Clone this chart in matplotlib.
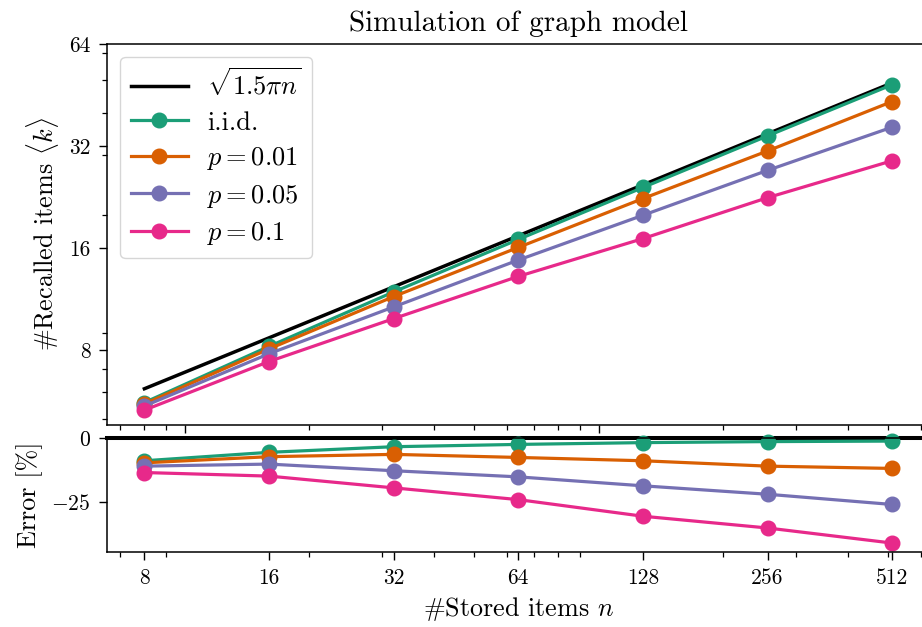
import matplotlib
matplotlib.use('Agg')
import matplotlib.pyplot as plt
from matplotlib.ticker import NullFormatter

# Computer Modern look without LaTeX
plt.rcParams['mathtext.fontset'] = 'cm'
plt.rcParams['font.family'] = 'serif'
plt.rcParams['font.serif'] = ['cmr10']
plt.rcParams['axes.unicode_minus'] = False

# Data
n = [8, 16, 32, 64, 128, 256, 512]
theory = [6.14, 8.68, 12.28, 17.37, 24.56, 34.74, 49.12]   # sqrt(1.5 pi n)

k_iid = [5.59, 8.19, 11.86, 16.94, 24.12, 34.25, 48.53]
k_p001 = [5.54, 8.05, 11.49, 16.05, 22.37, 30.92, 43.27]
k_p005 = [5.46, 7.79, 10.71, 14.73, 19.97, 27.10, 36.35]
k_p01 = [5.31, 7.39, 9.89, 13.18, 17.04, 22.51, 28.93]

err_iid = [-8.9, -5.6, -3.4, -2.5, -1.8, -1.4, -1.2]
err_p001 = [-9.7, -7.3, -6.4, -7.6, -8.9, -11.0, -11.9]
err_p005 = [-11.0, -10.2, -12.8, -15.2, -18.7, -22.0, -26.0]
err_p01 = [-13.5, -14.9, -19.5, -24.1, -30.6, -35.2, -41.1]

labels = [r'i.i.d.', r'$p=0.01$', r'$p=0.05$', r'$p=0.1$']
colors = ['#1b9e77', '#d95f02', '#7570b3', '#e7298a']
k_all = [k_iid, k_p001, k_p005, k_p01]
err_all = [err_iid, err_p001, err_p005, err_p01]

fig = plt.figure(figsize=(9.22, 6.27), dpi=100)
# axes run past the right edge, like the cropped original
ax1 = fig.add_axes([0.1161, 0.3222, 0.892, 0.6077])
ax2 = fig.add_axes([0.1161, 0.1196, 0.892, 0.1818])

lw = 2.3
ms = 10.5
tick_fs = 15.5
label_fs = 18.8

# top panel
ax1.plot(n, theory, color='black', lw=lw + 0.2, label=r'$\sqrt{1.5\pi n}$')
for k, c, lab in zip(k_all, colors, labels):
    ax1.plot(n, k, '-o', color=c, lw=lw, ms=ms, label=lab)

ax1.set_xscale('log')
ax1.set_yscale('log')
ax1.set_xlim(6.5, 630)
ax1.set_ylim(4.8, 64)
ax1.set_yticks([8, 16, 32, 64], labels=['8', '16', '32', '64'])
ax1.yaxis.set_minor_formatter(NullFormatter())
ax1.xaxis.set_minor_formatter(NullFormatter())
ax1.tick_params(labelbottom=False)
ax1.set_ylabel(r'#Recalled items $\langle k\rangle$', fontsize=label_fs, labelpad=6)
ax1.set_title('Simulation of graph model', fontsize=21, pad=9)
ax1.legend(loc='upper left', fontsize=19, handlelength=2.16, handletextpad=0.72,
           labelspacing=0.4, borderaxespad=0.5)

# bottom panel: relative error
ax2.axhline(0, color='black', lw=lw + 0.6, clip_on=False)
for e, c in zip(err_all, colors):
    ax2.plot(n, e, '-o', color=c, lw=lw, ms=ms, clip_on=False)

ax2.set_xscale('log')
ax2.set_xlim(6.5, 630)
ax2.set_ylim(-44.6, 0)
ax2.set_xticks(n, labels=[str(v) for v in n])
ax2.xaxis.set_minor_formatter(NullFormatter())
ax2.set_yticks([-25, 0], labels=[r'$-25$', r'$0$'])
ax2.set_ylabel(r'Error [%]', fontsize=label_fs, labelpad=6)
ax2.set_xlabel(r'#Stored items $n$', fontsize=label_fs, labelpad=5)

for ax in (ax1, ax2):
    ax.tick_params(labelsize=tick_fs, which='major', length=5.8, width=1.0, pad=6)
    ax.tick_params(which='minor', length=3.4, width=0.9)
    for s in ax.spines.values():
        s.set_linewidth(1.1)

fig.savefig('out.png', dpi=100)
